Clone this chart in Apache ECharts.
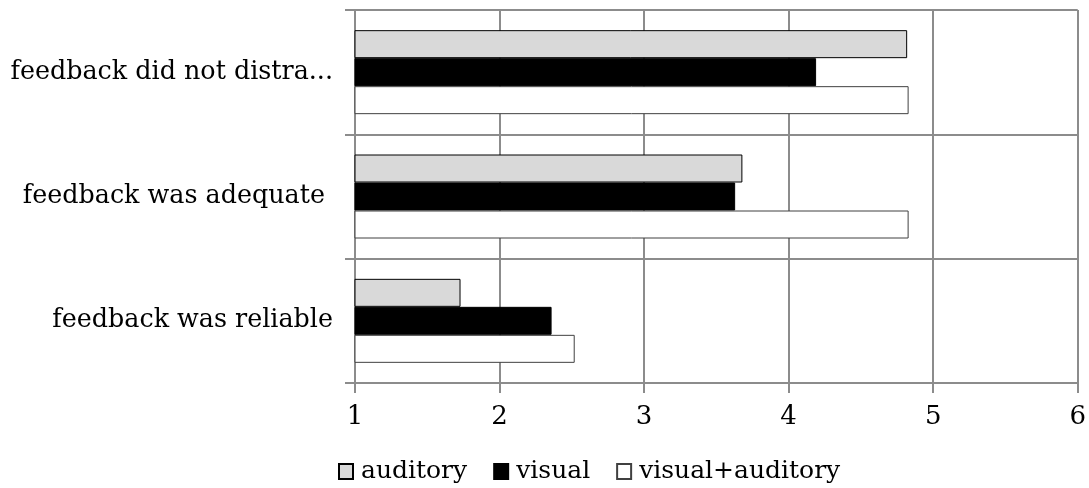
<!DOCTYPE html>
<html>
<head>
<meta charset="utf-8">
<script src="https://cdn.jsdelivr.net/npm/echarts@6/dist/echarts.min.js"></script>
<style>html,body{margin:0;padding:0;background:#fff;}#c{width:1089px;height:488px;}</style>
</head>
<body>
<div id="c"></div>
<script>
const categories = ["feedback did not distra...", "feedback was adequate ", "feedback was reliable"];
const seriesNames = ["auditory", "visual", "visual+auditory"];
const auditory = [4.82, 3.68, 1.73];
const visual = [4.19, 3.63, 2.36];
const visualAuditory = [4.83, 4.83, 2.52];
const xTicks = [1, 2, 3, 4, 5, 6];

const FONT = "DejaVu Serif";
const GRID = "#8c8c8c";
const chart = echarts.init(document.getElementById('c'), null, {renderer: 'canvas'});
const fills = ["#d9d9d9", "#000000", "#ffffff"];
const borders = ["#000000", "#000000", "#404040"];
const values = [auditory, visual, visualAuditory];

chart.setOption({
  animation: false,
  backgroundColor: '#fff',
  grid: {left: 355, right: 11, top: 10, bottom: 105, containLabel: false},
  legend: {
    data: seriesNames,
    top: 454,
    left: 333,
    itemWidth: 14,
    itemHeight: 15,
    itemGap: 26,
    icon: 'rect',
    textStyle: {fontFamily: FONT, fontSize: 25, color: '#000', padding: [0, 0, 0, 3]}
  },
  xAxis: {
    type: 'value',
    min: xTicks[0],
    max: xTicks[xTicks.length - 1],
    interval: 1,
    axisLine: {show: true, lineStyle: {color: GRID, width: 2}},
    axisTick: {show: true, length: 10, lineStyle: {color: GRID, width: 2}},
    axisLabel: {fontFamily: FONT, fontSize: 26, color: '#000', margin: 21},
    splitLine: {show: true, lineStyle: {color: GRID, width: 2}}
  },
  yAxis: {
    type: 'category',
    data: categories,
    inverse: true,
    axisLine: {show: true, lineStyle: {color: GRID, width: 2}},
    axisTick: {show: true, length: 10, lineStyle: {color: GRID, width: 2}},
    axisLabel: {fontFamily: FONT, fontSize: 25.4, color: '#000', margin: 22},
    splitLine: {show: true, lineStyle: {color: GRID, width: 2}}
  },
  series: seriesNames.map((n, i) => ({
    name: n,
    type: 'bar',
    data: values[i],
    barWidth: 28,
    barGap: '0%',
    itemStyle: {color: fills[i], borderColor: borders[i], borderWidth: 1}
  }))
});
</script>
</body>
</html>
